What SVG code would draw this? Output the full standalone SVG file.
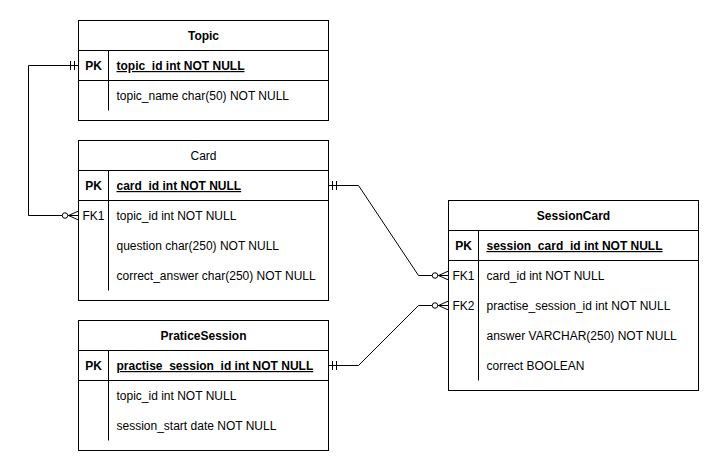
<svg xmlns="http://www.w3.org/2000/svg" width="719" height="471" viewBox="0 0 719 471">
<defs>
<style>
.box{fill:#fff;stroke:#000;stroke-width:1}
.ln{fill:none;stroke:#000;stroke-width:1}
.t{font-family:"Liberation Sans",Arial,sans-serif;font-size:12px;fill:#000}
.h{font-weight:bold;text-anchor:middle}
.hn{text-anchor:middle}
.k{font-weight:bold;text-anchor:middle}
.kf{text-anchor:middle}
.pk{font-weight:bold;text-decoration:underline}
.conn{fill:none;stroke:#000;stroke-width:1}
</style>
<marker id="one" markerUnits="userSpaceOnUse" viewBox="-16 -8 17 16" refX="0" refY="0" markerWidth="17" markerHeight="16" orient="auto-start-reverse" overflow="visible">
<path d="M-4,-4.5V4.5M-8,-4.5V4.5" fill="none" stroke="#000" stroke-width="1"/>
</marker>
<marker id="zeroMany" markerUnits="userSpaceOnUse" viewBox="-18 -8 19 16" refX="0" refY="0" markerWidth="19" markerHeight="16" orient="auto-start-reverse" overflow="visible">
<path d="M-10,0L0,-4.5M-10,0L0,4.5M-10,0H0" fill="none" stroke="#000" stroke-width="1"/>
<circle cx="-13.5" cy="0" r="2.75" fill="#fff" stroke="#000" stroke-width="1"/>
</marker>
</defs>
<rect width="719" height="471" fill="#fff"/>

<g id="connectors">
<path class="conn" d="M78.5,65.5H28.5V215.5H78.5" marker-start="url(#one)" marker-end="url(#zeroMany)"/>
<path class="conn" d="M328.5,185.5H358.5L418.5,275.5H448.5" marker-start="url(#one)" marker-end="url(#zeroMany)"/>
<path class="conn" d="M328.5,365.5H358.5L418.5,305.5H448.5" marker-start="url(#one)" marker-end="url(#zeroMany)"/>
</g>

<g id="topic">
<rect class="box" x="78.5" y="20.5" width="250" height="100"/>
<path class="ln" d="M78.5,50.5H328.5M78.5,80.5H328.5M108.5,50.5V110.5"/>
<text class="t h" x="203.5" y="40">Topic</text>
<text class="t k" x="93.5" y="70">PK</text>
<text class="t pk" x="116.5" y="70">topic_id int NOT NULL</text>
<text class="t" x="116.5" y="100">topic_name char(50) NOT NULL</text>
</g>

<g id="card">
<rect class="box" x="78.5" y="140.5" width="250" height="160"/>
<path class="ln" d="M78.5,170.5H328.5M78.5,200.5H328.5M108.5,170.5V290.5"/>
<text class="t hn" x="203.5" y="160">Card</text>
<text class="t k" x="93.5" y="190">PK</text>
<text class="t pk" x="116.5" y="190">card_id int NOT NULL</text>
<text class="t kf" x="93.5" y="220">FK1</text>
<text class="t" x="116.5" y="220">topic_id int NOT NULL</text>
<text class="t" x="116.5" y="250">question char(250) NOT NULL</text>
<text class="t" x="116.5" y="280">correct_answer char(250) NOT NULL</text>
</g>

<g id="praticesession">
<rect class="box" x="78.5" y="320.5" width="250" height="130"/>
<path class="ln" d="M78.5,350.5H328.5M78.5,380.5H328.5M108.5,350.5V440.5"/>
<text class="t h" x="203.5" y="340">PraticeSession</text>
<text class="t k" x="93.5" y="370">PK</text>
<text class="t pk" x="116.5" y="370">practise_session_id int NOT NULL</text>
<text class="t" x="116.5" y="400">topic_id int NOT NULL</text>
<text class="t" x="116.5" y="430">session_start date NOT NULL</text>
</g>

<g id="sessioncard">
<rect class="box" x="448.5" y="200.5" width="250" height="190"/>
<path class="ln" d="M448.5,230.5H698.5M448.5,260.5H698.5M478.5,230.5V380.5"/>
<text class="t h" x="573.5" y="220">SessionCard</text>
<text class="t k" x="463.5" y="250">PK</text>
<text class="t pk" x="486.5" y="250">session_card_id int NOT NULL</text>
<text class="t kf" x="463.5" y="280">FK1</text>
<text class="t" x="486.5" y="280">card_id int NOT NULL</text>
<text class="t kf" x="463.5" y="310">FK2</text>
<text class="t" x="486.5" y="310">practise_session_id int NOT NULL</text>
<text class="t" x="486.5" y="340">answer VARCHAR(250) NOT NULL</text>
<text class="t" x="486.5" y="370">correct BOOLEAN</text>
</g>
</svg>
